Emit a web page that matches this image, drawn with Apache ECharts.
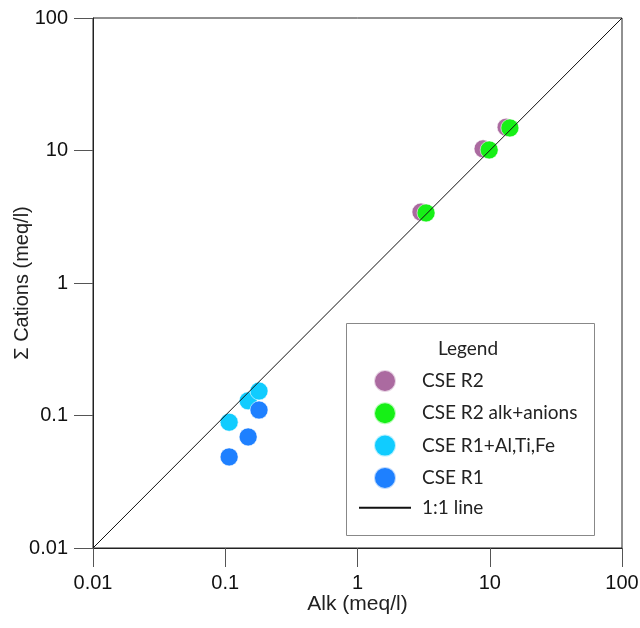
<!DOCTYPE html>
<html lang="en">
<head>
    <meta charset="UTF-8">
    <title>Cations vs Alk</title>
    <style>
      * { padding: 0; margin: 0; }
      body { background: #fff; }
    </style>
</head>
<body>
    <div id="main" style="width: 640px;height:628px;"></div>
    <script src="https://cdn.jsdelivr.net/npm/echarts@6/dist/echarts.min.js"></script>
    <script>
        // data: [alk, sum cations] in meq/l
        var r2 = [[3.02, 3.43], [8.9, 10.3], [13.3, 15.0]];
        var r2AlkAnions = [[3.30, 3.38], [9.9, 10.1], [14.2, 14.8]];
        var r1AlTiFe = [[0.107, 0.089], [0.149, 0.129], [0.180, 0.153]];
        var r1 = [[0.107, 0.0487], [0.149, 0.0689], [0.180, 0.110]];
        var oneToOne = [[0.01, 0.01], [100, 100]];
        var seriesNames = ['CSE R2', 'CSE R2 alk+anions', 'CSE R1+Al,Ti,Fe', 'CSE R1', '1:1 line'];
        var colors = ['#ab6aa0', '#16f016', '#10ccff', '#1e80ff'];

        var axisFont = 'Arial';

        function dots(i, data) {
            return {
                name: seriesNames[i],
                type: 'scatter',
                data: data,
                symbolSize: 18,
                itemStyle: {
                    color: colors[i],
                    opacity: 1,
                    borderColor: 'rgba(255,255,255,0.7)',
                    borderWidth: 0.8
                }
            };
        }

        function logAxis(name, pos) {
            return {
                type: 'log',
                logBase: 10,
                min: 0.01,
                max: 100,
                name: name,
                nameLocation: 'middle',
                nameGap: pos === 'x' ? 46 : 61,
                nameMoveOverlap: false,
                nameTextStyle: { fontFamily: axisFont, fontSize: pos === 'x' ? 21 : 20, color: '#222' },
                axisLine: { show: true, onZero: false, lineStyle: { color: '#222', width: 1 } },
                axisTick: { show: true, inside: false, length: 19, lineStyle: { color: '#555' } },
                axisLabel: {
                    fontFamily: axisFont, fontSize: 20, color: '#111',
                    margin: 25,
                    formatter: function (v) { return String(v); }
                },
                splitLine: { show: false },
                minorTick: { show: false }
            };
        }

        var option = {
            animation: false,
            color: colors.concat(['#111']),
            grid: {
                left: 93, right: 18, top: 18, bottom: 80,
                outerBoundsMode: 'none',
                containLabel: false,
                show: true, borderColor: '#222', borderWidth: 1, backgroundColor: '#fff'
            },
            xAxis: logAxis('Alk (meq/l)', 'x'),
            yAxis: logAxis('\u03A3 Cations (meq/l)', 'y'),
            legend: {
                orient: 'vertical',
                left: 358,
                top: 369,
                padding: 0,
                itemWidth: 52,
                itemHeight: 22,
                itemGap: 8.3,
                data: seriesNames.slice(0, 4).concat([{ name: seriesNames[4], itemStyle: { opacity: 0 } }]),
                textStyle: { fontFamily: 'Lato, sans-serif', fontSize: 19, color: '#222', padding: [0, 0, 0, 6] }
            },
            graphic: [
                {
                    type: 'rect',
                    shape: { x: 346.5, y: 323.5, width: 248, height: 212 },
                    style: { fill: '#fff', stroke: '#888', lineWidth: 1 },
                    z: 0
                },
                {
                    type: 'text',
                    left: 438,
                    top: 339,
                    style: { text: 'Legend', font: '19px Lato, sans-serif', fill: '#222' },
                    z: 1
                }
            ],
            series: [
                dots(0, r2),
                dots(1, r2AlkAnions),
                dots(2, r1AlTiFe),
                dots(3, r1),
                {
                    name: seriesNames[4],
                    type: 'line',
                    data: oneToOne,
                    symbol: 'none',
                    lineStyle: { color: '#111', width: 1 },
                    itemStyle: { color: '#111' },
                    z: 3
                }
            ]
        };

        var myChart = echarts.init(document.getElementById('main'));
        myChart.setOption(option);
    </script>
</body>
</html>
